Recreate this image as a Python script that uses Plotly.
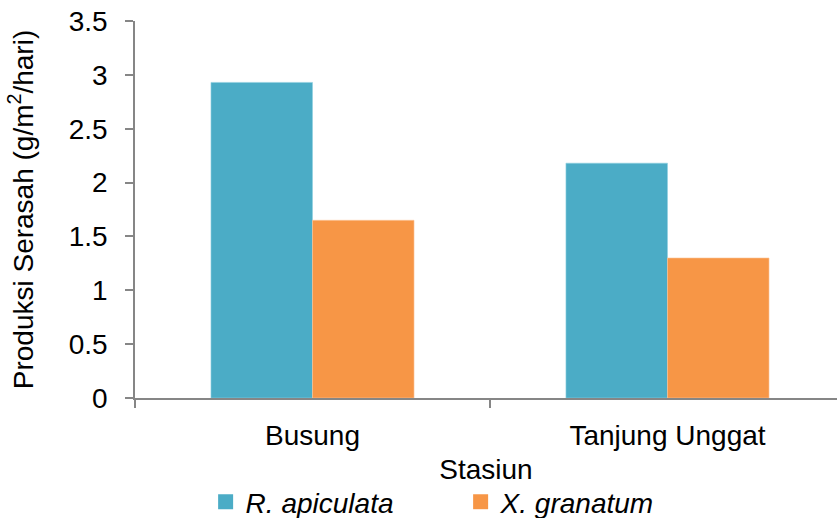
import plotly.graph_objects as go

# Litter production per station
stations = ["Busung", "Tanjung Unggat"]
species = ["R. apiculata", "X. granatum"]
r_apiculata = [2.93, 2.18]
x_granatum = [1.65, 1.30]
y_ticks = [0, 0.5, 1, 1.5, 2, 2.5, 3, 3.5]
y_tick_text = ["0", "0.5", "1", "1.5", "2", "2.5", "3", "3.5"]

FONT = "Liberation Sans, Arial, sans-serif"
FS = 28
AXIS_GREY = "#868686"
COLORS = ["#4BACC6", "#F79646"]
EDGES = ["#8fd0e0", "#fbc59a"]

fig = go.Figure()
for name, vals, col, edge in zip(species, [r_apiculata, x_granatum], COLORS, EDGES):
    fig.add_trace(go.Bar(
        x=stations, y=vals, name=name, showlegend=False,
        marker=dict(color=col, line=dict(color=edge, width=0.6)),
    ))

# Legend entries with larger square swatches
for name, col in zip(species, COLORS):
    fig.add_trace(go.Scatter(
        x=[None], y=[None], mode="markers", name=f"<i>{name}</i>",
        marker=dict(symbol="square", size=15, color=col),
        showlegend=True, hoverinfo="skip",
    ))

fig.update_layout(
    width=837, height=518,
    margin=dict(l=135, r=0, t=21, b=120, autoexpand=False),
    paper_bgcolor="white", plot_bgcolor="white",
    barmode="group", bargap=0.428, bargroupgap=0,
    font=dict(family=FONT, size=FS, color="black"),
    showlegend=True,
    legend=dict(
        orientation="h", xref="paper", yref="paper",
        x=0.1006, y=-0.3422, xanchor="left", yanchor="bottom",
        entrywidth=210, entrywidthmode="pixels",
        itemsizing="trace",
        font=dict(family=FONT, size=FS, color="black"),
        traceorder="normal",
    ),
)

fig.update_xaxes(
    type="category", range=[-0.5, 1.4775], automargin=True,
    showline=True, linecolor=AXIS_GREY, linewidth=1.5,
    ticks="outside", tickson="boundaries", ticklen=8,
    tickcolor=AXIS_GREY, tickwidth=1.5,
    showgrid=False, zeroline=False,
    ticklabelstandoff=12,
    tickfont=dict(family=FONT, size=FS, color="black"),
    title=dict(text="Stasiun", font=dict(family=FONT, size=FS, color="black"),
               standoff=9),
)

fig.update_yaxes(
    range=[0, 3.5], tickvals=y_ticks, ticktext=y_tick_text, automargin=True,
    showline=True, linecolor=AXIS_GREY, linewidth=1.5,
    ticks="outside", ticklen=8, tickcolor=AXIS_GREY, tickwidth=1.5,
    showgrid=False, zeroline=False,
    ticklabelstandoff=12,
    tickfont=dict(family=FONT, size=FS, color="black"),
    title=dict(text="Produksi Serasah (g/m<sup>2</sup>/hari)",
               font=dict(family=FONT, size=FS, color="black"),
               standoff=27),
)

fig.write_html("out.html")
